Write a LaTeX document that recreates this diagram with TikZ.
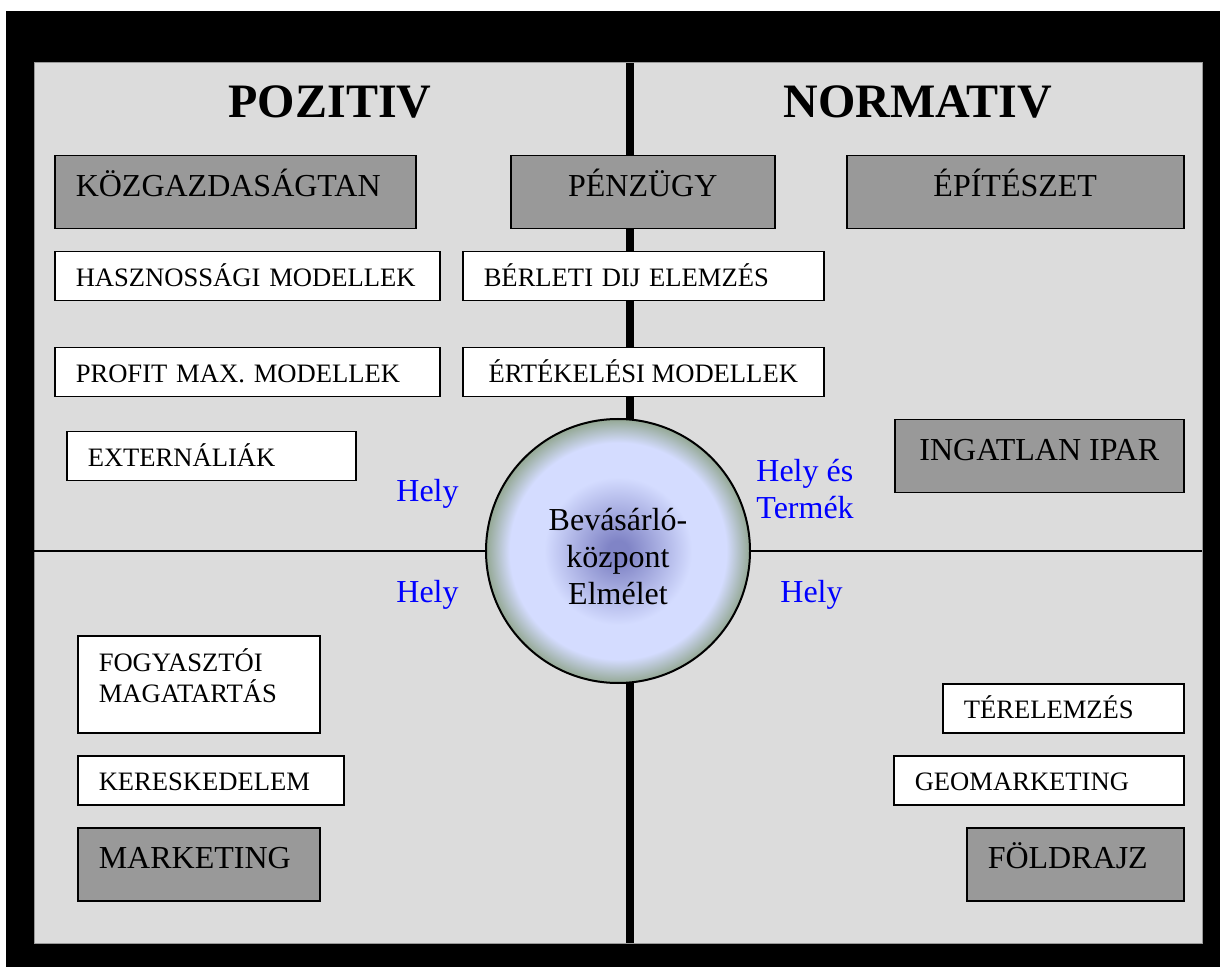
\documentclass[tikz,border=0pt]{standalone}
\usepackage{fontspec}
\setmainfont{Liberation Serif}
\definecolor{panelgray}{RGB}{220,220,220}
\definecolor{boxgray}{RGB}{153,153,153}
\definecolor{cCen}{RGB}{128,132,198}
\definecolor{cLight}{RGB}{212,220,255}
\definecolor{cEdge}{RGB}{148,168,148}
\pgfdeclareradialshading{mallshade}{\pgfpoint{0bp}{0bp}}{%
  color(0bp)=(cCen); color(2bp)=(cCen); color(14bp)=(cLight); color(20.5bp)=(cLight);
  color(25bp)=(cEdge); color(50bp)=(cEdge)}
\begin{document}
\begin{tikzpicture}[x=0.5pt,y=-0.5pt,
  box/.style={draw=black, line width=0.75pt, anchor=north west, inner ysep=0pt, inner xsep=10.5pt},
  gbox/.style={box, fill=boxgray, font=\fontsize{16}{18.5}\selectfont,
    text height=12pt, text depth=7.5pt, minimum height=36.5pt},
  wbox/.style={box, fill=white, font=\fontsize{13.3}{15.5}\selectfont,
    text height=11pt, text depth=0.5pt, minimum height=24.5pt},
  lbl/.style={text=blue, font=\fontsize{16}{18.5}\selectfont, inner sep=0pt, anchor=base west},
  title/.style={font=\bfseries\fontsize{24}{28}\selectfont, inner sep=0pt, anchor=base},
  axisline/.style={draw=black},
  hub/.style={circle, draw=black, line width=1pt, minimum size=132pt, shade, shading=mallshade,
    font=\fontsize{16}{18.5}\selectfont, inner sep=0pt, text height=31pt, text depth=13pt}
]
\useasboundingbox (0,0) rectangle (1220,967);
\fill[white] (0,0) rectangle (1220,967);
\fill[black] (6,11) rectangle (1220,967);
\filldraw[fill=panelgray, draw=gray!80, line width=0.5pt] (34,63) rectangle (1202,943);

% axes
\coordinate (vt) at (630,63);
\coordinate (vb) at (630,943);
\coordinate (hl) at (34,551);
\coordinate (hr) at (1202,551);
\draw[axisline, line width=4pt] (vt) -- (vb);
\draw[axisline, line width=1pt] (hl) -- (hr);

% titles
\node[title] (pozitiv) at (330,118) {POZITIV};
\node[title] (normativ) at (918,118) {NORMATIV};

% top-left quadrant
\node[gbox, text width=159.5pt, align=left] (kozg) at (54,155) {KÖZGAZDASÁGTAN};
\node[wbox, text width=171.5pt, align=left] (haszn) at (54,251) {HASZNOSSÁGI MODELLEK};
\node[wbox, text width=171.5pt, align=left] (profit) at (54,347) {PROFIT MAX. MODELLEK};
\node[wbox, text width=123.5pt, align=left] (extern) at (66,431) {EXTERNÁLIÁK};

% middle column
\node[gbox, minimum width=132pt] (penz) at (510,155) {PÉNZÜGY};
\node[wbox, text width=159.5pt, align=left] (berleti) at (462,251) {BÉRLETI DIJ ELEMZÉS};
\node[wbox, minimum width=180.5pt] (ertek) at (462,347) {ÉRTÉKELÉSI MODELLEK};

% top-right quadrant
\node[gbox, minimum width=168.5pt] (epit) at (846,155) {ÉPÍTÉSZET};
\node[gbox, minimum width=144.5pt] (ingatlan) at (894,419) {INGATLAN IPAR};

% bottom-left quadrant
\node[wbox, text width=100pt, align=left, minimum height=48.5pt,
      text height=11pt, text depth=23.5pt] (fogy) at (77,635) {FOGYASZTÓI\\MAGATARTÁS};
\node[wbox, text width=112pt, align=left] (keresk) at (77,755) {KERESKEDELEM};
\node[gbox, text width=100pt, align=left] (mark) at (77,827) {MARKETING};

% bottom-right quadrant
\node[wbox, text width=99.5pt, align=left] (terel) at (942,683) {TÉRELEMZÉS};
\node[wbox, text width=124pt, align=left] (geom) at (893,755) {GEOMARKETING};
\node[gbox, text width=87.5pt, align=left] (foldr) at (966,827) {FÖLDRAJZ};

% centre
\node[hub] (center) at (618,551) {\begin{tabular}{@{}c@{}}Bevásárló-\\központ\\Elmélet\end{tabular}};

% blue labels
\node[lbl] (hely1) at (396,502) {Hely};
\node[lbl] (hely2) at (396,603) {Hely};
\node[lbl] (hely3) at (780,603) {Hely};
\node[lbl] (helyt) at (756,482) {\begin{tabular}[t]{@{}l@{}}Hely és\\Termék\end{tabular}};
\end{tikzpicture}
\end{document}
